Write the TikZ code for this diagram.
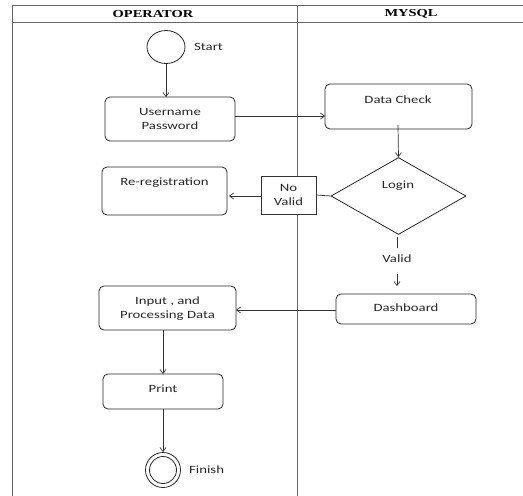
\documentclass[tikz,border=0pt]{standalone}
\usepackage{fontspec}
\setmainfont{Carlito}[FakeStretch=1.33]
\newfontfamily\hdrfont{Liberation Serif}[FakeStretch=1.35]
\usetikzlibrary{shapes.geometric,arrows.meta}
\begin{document}
\begin{tikzpicture}[x=1pt,y=-1pt,
  lane/.style={draw=black!60,line width=0.9pt},
  act/.style={draw=black!85,line width=0.8pt,rounded corners=5pt},
  conn/.style={draw=black!80,line width=0.7pt},
  arr/.style={conn,-{Straight Barb[length=4pt,width=6pt]}},
  txt/.style={font=\fontsize{11.1}{14}\selectfont,text=black!85,align=center,inner sep=0pt},
  hdr/.style={font=\hdrfont\bfseries\fontsize{10.7}{13}\selectfont,inner sep=0pt}]
\useasboundingbox (0,0) rectangle (523,496);
% swimlane frame
\draw[lane] (12,496) -- (12,5) -- (523,5);
\draw[lane] (12,22) -- (523,22);
\draw[lane] (297,5) -- (297,496);
\node[hdr] (h1) at (153,14) {OPERATOR};
\node[hdr] (h2) at (411,14) {MYSQL};
% start
\node[draw=black!85,line width=0.8pt,ellipse,minimum width=38pt,minimum height=33pt,inner sep=0pt] (start) at (166,47) {};
\node[txt,anchor=west] (startl) at (194,47) {Start};
% username
\path[act] (105,97) rectangle (235,141);
\node[txt] (usert) at (170,119) {Username\\Password};
% data check
\path[act] (325,84) rectangle (472,129);
\node[txt] (dct) at (398,100) {Data Check};
% diamond
\node[draw=black!85,line width=0.8pt,diamond,minimum width=135pt,minimum height=77pt,inner sep=0pt,aspect=1.75] (login) at (398.5,196) {};
\node[txt] (logint) at (398,186) {Login};
% no valid box
\node[draw=black!80,fill=white,line width=0.7pt,minimum width=55pt,minimum height=38pt,inner sep=0pt,txt] (nv) at (288.5,195) {No\\Valid};
% re-registration
\path[act] (102,167) rectangle (227,215);
\node[txt] (rrt) at (164.5,183) {Re-registration};
% valid label
\node[txt] (valid) at (397,259) {Valid};
% dashboard
\path[act] (336,294) rectangle (476,324);
\node[txt] (dbt) at (406,308) {Dashboard};
% input
\path[act] (99,286) rectangle (236,330);
\node[txt] (inpt) at (167.5,308.5) {Input , and\\Processing Data};
% print
\path[act] (103,374) rectangle (223,409);
\node[txt] (prt) at (163,389) {Print};
% finish
\node[draw=black!85,line width=0.8pt,circle,minimum size=35pt,inner sep=0pt] (fin) at (163,470) {};
\node[draw=black!85,line width=0.8pt,circle,minimum size=27pt,inner sep=0pt] (fin2) at (163,470) {};
\node[txt,anchor=west] (finl) at (189,470) {Finish};
% connectors
\coordinate (uTop) at (166,97);
\draw[arr] (start.south) -- (uTop);
\coordinate (uR) at (235,116);
\coordinate (dcL) at (325,116);
\draw[arr] (uR) -- (dcL);
\coordinate (dcB) at (398,125);
\draw[arr] (dcB) -- (login.north);
\draw[conn] (login.west) -- (nv.east);
\coordinate (rrR) at (229,196);
\draw[arr] (nv.west |- 0,196) -- (rrR);
\coordinate (lv1) at (397,237);
\coordinate (lv2) at (397,248);
\draw[conn] (lv1) -- (lv2);
\coordinate (va1) at (397,274);
\coordinate (va2) at (397,286);
\draw[arr] (va1) -- (va2);
\coordinate (dbL) at (336,310);
\coordinate (inR) at (236,310);
\draw[arr] (dbL) -- (inR);
\coordinate (inB) at (163,330);
\coordinate (prT) at (163,374);
\draw[arr] (inB) -- (prT);
\coordinate (prB) at (163,409);
\draw[arr] (prB) -- (fin.north);
\end{tikzpicture}
\end{document}
